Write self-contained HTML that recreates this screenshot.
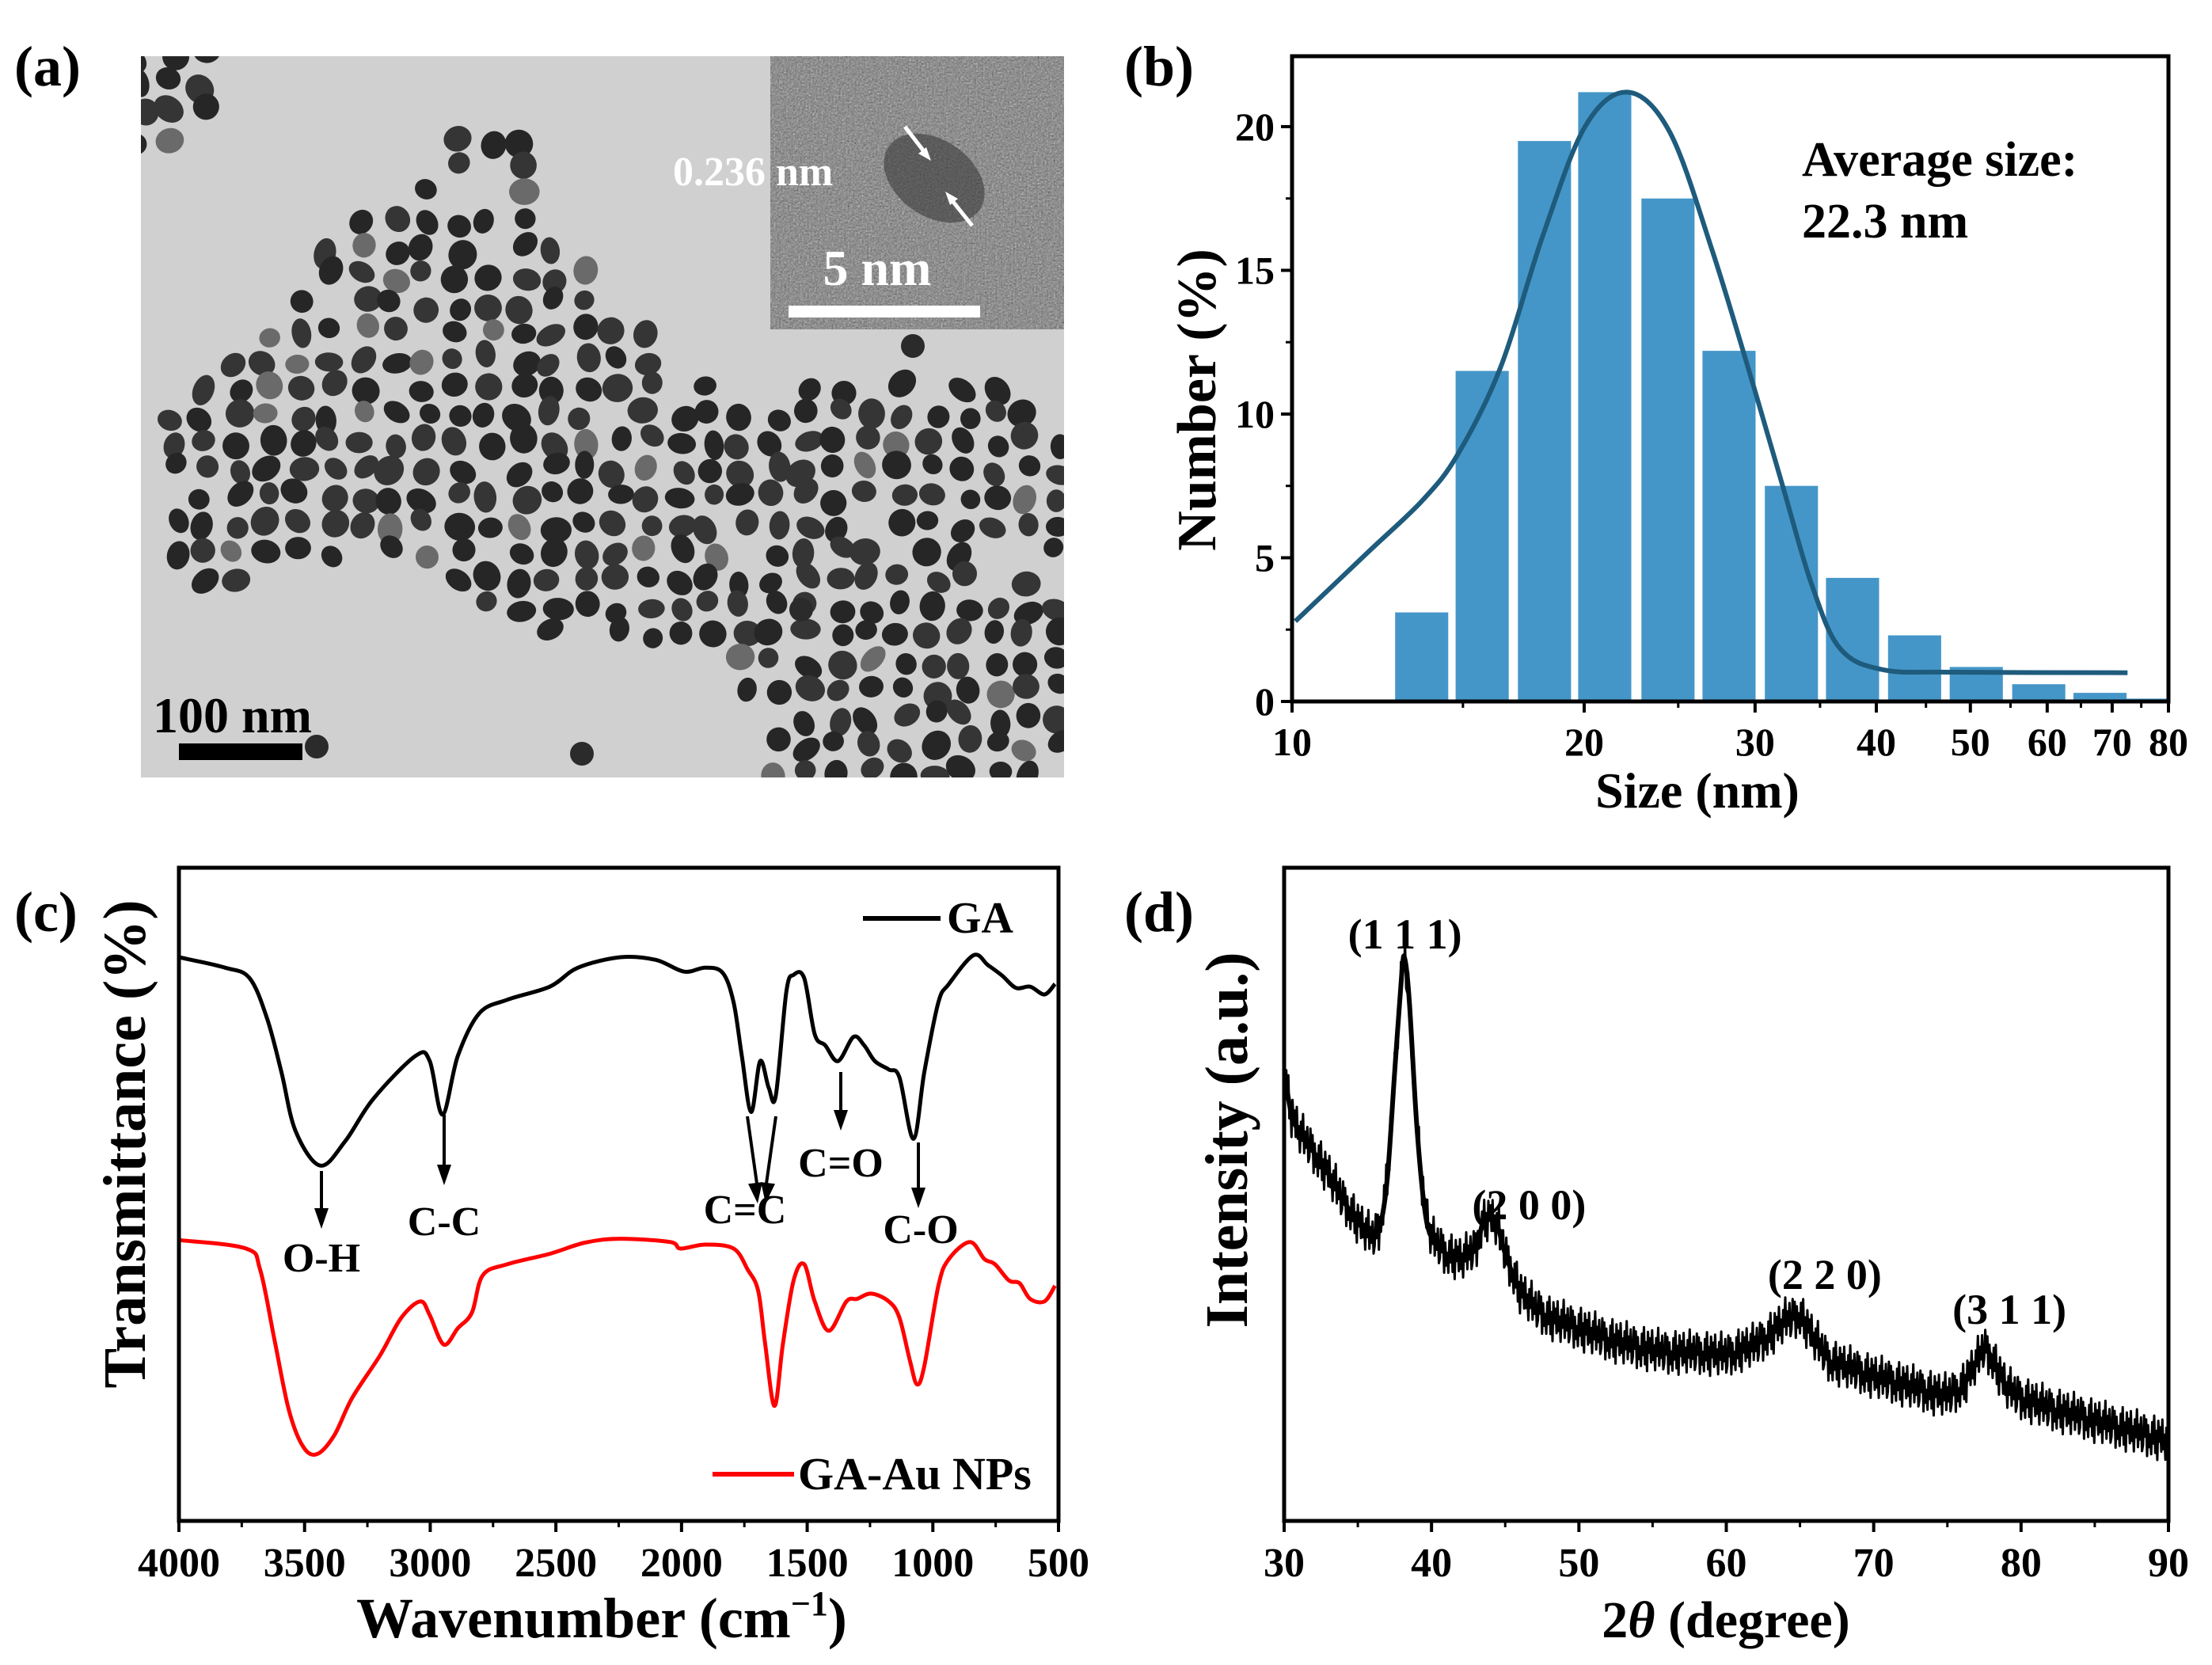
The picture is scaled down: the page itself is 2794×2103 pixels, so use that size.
<!DOCTYPE html>
<html><head><meta charset="utf-8">
<style>
html,body{margin:0;padding:0;background:#fff;}
svg{display:block;font-family:"Liberation Serif",serif;font-weight:bold;}
</style></head>
<body>
<svg id="fig" width="2794" height="2103" viewBox="0 0 2794 2103" xmlns="http://www.w3.org/2000/svg">
<defs>
<filter id="grain" x="0" y="0" width="100%" height="100%">
<feTurbulence type="fractalNoise" baseFrequency="0.45" numOctaves="2" seed="3" result="n"/>
<feColorMatrix type="saturate" values="0"/>
<feComponentTransfer><feFuncR type="linear" slope="1.6" intercept="-0.35"/><feFuncG type="linear" slope="1.6" intercept="-0.35"/><feFuncB type="linear" slope="1.6" intercept="-0.35"/></feComponentTransfer>
</filter>
<clipPath id="clipA"><rect x="178" y="71" width="1166" height="911"/></clipPath>
<clipPath id="clipB"><rect x="1632" y="71" width="1107" height="815"/></clipPath>
<clipPath id="clipD"><rect x="1622" y="1096" width="1117" height="825"/></clipPath>
</defs>

<text x="18" y="108" font-size="72">(a)</text>
<text x="1420" y="108" font-size="72">(b)</text>
<text x="18" y="1176" font-size="72">(c)</text>
<text x="1420" y="1176" font-size="72">(d)</text>

<g id="tem" clip-path="url(#clipA)">
<rect x="178" y="71" width="1166" height="911" fill="#d0d0d0"/>
<g id="particles"></g>
<g>
<rect x="973" y="71" width="371" height="345" fill="#7a7a7a"/>
<rect x="973" y="71" width="371" height="345" filter="url(#grain)" opacity="0.75"/>
<ellipse cx="1180" cy="225" rx="70" ry="48" fill="#3a3a3a" transform="rotate(35 1180 225)" opacity="0.6"/>
<line x1="1143" y1="160" x2="1170" y2="195" stroke="#fff" stroke-width="5"/>
<polygon points="1176,203 1160,194 1170,186" fill="#fff"/>
<line x1="1228" y1="285" x2="1200" y2="250" stroke="#fff" stroke-width="5"/>
<polygon points="1194,242 1210,251 1200,259" fill="#fff"/>
<text x="850" y="234" font-size="52" fill="#fff">0.236 nm</text>
<text x="1108" y="360" font-size="64" fill="#fff" text-anchor="middle">5 nm</text>
<rect x="996" y="386" width="242" height="15" fill="#fff"/>
</g>
<text x="193" y="925" font-size="64" fill="#000">100 nm</text>
<rect x="226" y="939" width="156" height="21" fill="#000"/>
</g>

<g id="panelB"></g>
<g id="panelC"></g>
<g id="panelD"></g>
</svg>

<script>
// ---------- Panel b data ----------
const binCenters = [13.6, 15.7, 18.2, 21.0, 24.4, 28.2, 32.7, 37.8, 43.8, 50.7, 58.8, 68.0, 76.5];
const binCounts  = [3.1, 11.5, 19.5, 21.2, 17.5, 12.2, 7.5, 4.3, 2.3, 1.2, 0.6, 0.3, 0.1];
const fitSizes   = [10.08, 11.98, 13.63, 14.82, 16.39, 18.13, 20.04, 22.17, 24.51, 27.12, 29.99, 32.06, 34.29, 36.67, 40.55, 47.97, 72.6];
const fitValues  = [2.79, 5.2, 7.0, 8.6, 11.6, 16.2, 20.0, 21.2, 19.8, 15.66, 10.81, 7.45, 4.10, 1.86, 1.11, 1.02, 1.0];
const bYTicks    = [0, 5, 10, 15, 20];
const bXTicks    = [10, 20, 30, 40, 50, 60, 70, 80];

// ---------- Panel c data ----------
const gaWave = [4000,3817,3719,3649,3592,3536,3438,3339,3227,3058,3002,2951,2890,2805,2693,2524,2412,2243,2103,1990,1906,1836,1793,1760,1723,1687,1653,1625,1583,1554,1512,1470,1428,1377,1316,1273,1231,1175,1133,1077,1034,978,936,838,781,725,669,613,556,514];
const gaTrans = [86.3,84.7,83.1,76.9,68.7,59.7,54.4,58.1,64.6,71.2,70.4,62.2,71.2,77.7,79.8,81.8,84.7,86.3,85.9,84.1,84.7,83.9,79.4,71.2,62.6,70.4,66.3,65.1,81.0,83.6,83.1,74.5,72.8,70.4,74.1,72.8,70.4,69.1,67.9,58.5,68.7,79.4,82.2,86.6,85.1,83.5,81.6,81.8,80.6,82.2];
const auWave = [4000,3733,3677,3620,3564,3508,3452,3382,3311,3199,3115,3039,3002,2946,2890,2834,2791,2693,2524,2384,2243,2046,2004,1906,1793,1737,1695,1667,1630,1597,1554,1512,1470,1414,1344,1301,1245,1175,1133,1091,1063,1034,978,936,852,795,753,697,655,613,556,514];
const auTrans = [43.0,41.7,38.5,27.8,17.2,11.5,10.2,13.1,18.8,25.4,31.1,33.6,31.5,27.0,29.5,31.9,37.6,39.3,40.9,42.6,43.2,42.7,41.7,42.3,41.7,38.5,35.2,27.0,17.6,27.0,36.8,39.3,33.6,29.1,33.6,34.0,34.8,33.6,31.1,24.5,20.9,23.7,36.0,40.1,42.7,40.1,39.3,36.8,36.4,34.0,33.6,36.0];
const cXTicks = [4000,3500,3000,2500,2000,1500,1000,500];

// ---------- Panel d data ----------
const xrdAngle = [30,30.5,31,32,33,34,35,36,36.5,37,37.5,38,38.2,38.5,39,39.5,40,41,42,43,43.5,44,44.5,45,46,47,48,50,52,54,56,58,60,62,63,64,65,66,67,68,70,72,74,75,76,77,77.5,78,79,80,82,84,86,88,90];
const xrdIntensity = [68.7,62.2,59.7,56.5,53.2,49.1,45.8,43.4,45.0,52.4,68.7,84.3,85.9,79.4,60.6,48.3,43.4,40.9,40.1,41.7,45.8,46.6,45.0,40.9,35.2,32.7,31.1,29.5,27.8,26.6,25.8,25.8,25.4,27.0,28.6,30.7,31.5,27.8,24.5,23.7,22.1,20.9,19.6,19.2,20.5,24.5,26.6,25.0,20.5,18.8,17.2,16.0,14.7,13.5,12.3];
const xrdJitter = [0,-3.1,2.4,-1.2,3.6,-2.7,1.1,-3.8,2.9,-0.6,1.9,-2.2,3.3,-1.7,0.8,-3.4,2.1,-0.9,3.9,-2.5,1.4,-1.1,2.7,-3.0,-1.9,3.2,-0.4,2.6,-3.6,1.7,-2.0];
const dXTicks = [30,40,50,60,70,80,90];
const peakLabels = ["(1 1 1)","(2 0 0)","(2 2 0)","(3 1 1)"];
const peakAngles = [38.2, 44.2, 64.8, 77.6];

const NS = "http://www.w3.org/2000/svg";
function mk(parent, tag, attrs) {
  const e = document.createElementNS(NS, tag);
  for (const k in attrs) e.setAttribute(k, attrs[k]);
  parent.appendChild(e);
  return e;
}
function smoothPath(pts) {
  let d = "M" + pts[0][0].toFixed(1) + "," + pts[0][1].toFixed(1);
  for (let i = 0; i < pts.length - 1; i++) {
    const p0 = pts[Math.max(0, i - 1)], p1 = pts[i], p2 = pts[i + 1], p3 = pts[Math.min(pts.length - 1, i + 2)];
    const c1x = p1[0] + (p2[0] - p0[0]) / 6, c1y = p1[1] + (p2[1] - p0[1]) / 6;
    const c2x = p2[0] - (p3[0] - p1[0]) / 6, c2y = p2[1] - (p3[1] - p1[1]) / 6;
    d += "C" + c1x.toFixed(1) + "," + c1y.toFixed(1) + " " + c2x.toFixed(1) + "," + c2y.toFixed(1) + " " + p2[0].toFixed(1) + "," + p2[1].toFixed(1);
  }
  return d;
}

// ---------- Panel a particles (decorative texture) ----------
(function () {
  const g = document.getElementById("particles");
  let seed = 7;
  function rnd() { seed = (seed * 16807) % 2147483647; return (seed - 1) / 2147483646; }
  const poly = [[500,200],[680,180],[690,400],[780,420],[800,560],[870,630],[1000,760],[1200,700],[1450,720],[1530,830],[1530,1535],[1060,1535],[1000,1300],[780,1230],[620,1230],[520,1100],[400,1090],[250,1100],[130,1160],[40,1050],[40,800],[200,650],[300,480],[350,390],[470,330]]
    .map(p => [178 + (p[0] - 38) / 1492 * 1166, 71 + (p[1] - 38) / 1497 * 911]);
  function inside(x, y) {
    let c = false;
    for (let i = 0, j = poly.length - 1; i < poly.length; j = i++) {
      const xi = poly[i][0], yi = poly[i][1], xj = poly[j][0], yj = poly[j][1];
      if (((yi > y) !== (yj > y)) && (x < (xj - xi) * (y - yi) / (yj - yi) + xi)) c = !c;
    }
    return c;
  }
  const step = 40;
  for (let y = 71; y < 990; y += step * 0.87) {
    for (let x = 178; x < 1350; x += step) {
      const px = x + (rnd() - 0.5) * 16, py = y + (rnd() - 0.5) * 16;
      const topLeft = px < 290 && py < 200;
      if (!(inside(px, py) || topLeft)) continue;
      if (px > 970 && py < 420) continue;
      if (rnd() < 0.06) continue;
      const rx = 12 + rnd() * 8, ry = 12 + rnd() * 6;
      const shade = rnd() < 0.08 ? "#6a6a6a" : (rnd() < 0.5 ? "#262626" : "#353535");
      const el = mk(g, "ellipse", { cx: px.toFixed(1), cy: py.toFixed(1), rx: rx.toFixed(1), ry: ry.toFixed(1), fill: shade, transform: "rotate(" + (rnd() * 180).toFixed(0) + " " + px.toFixed(1) + " " + py.toFixed(1) + ")" });
      
      
    }
  }
  [[400,943],[735,952],[1153,437],[1012,770]].forEach(p => {
    const el = mk(g, "circle", { cx: p[0], cy: p[1], r: 15, fill: "#2b2b2b" });
    
    
  });
})();

// ---------- Panel b ----------
(function () {
  const g = document.getElementById("panelB");
  const L = 1632, R = 2739, T = 71, B = 886, yMax = 22.45;
  const pxDec = (R - L) / Math.log10(8);
  const xs = v => L + Math.log10(v / 10) * pxDec;
  const ys = v => B - v / yMax * (B - T);
  const barW = 0.0547 * pxDec;
  const bars = mk(g, "g", { "clip-path": "url(#clipB)" });
  
  
  binCenters.forEach((c, i) => {
    const r = mk(bars, "rect", { x: (xs(c) - barW / 2).toFixed(1), y: ys(binCounts[i]).toFixed(1), width: barW.toFixed(1), height: (B - ys(binCounts[i])).toFixed(1), fill: "#4596c8" });
    
    
  });
  const fit = mk(g, "path", { d: smoothPath(fitSizes.map((s, i) => [xs(s), ys(fitValues[i])])), fill: "none", stroke: "#1e5b7c", "stroke-width": 6, "clip-path": "url(#clipB)" });
  
  
  const frame = mk(g, "rect", { x: L, y: T, width: R - L, height: B - T, fill: "none", stroke: "#000", "stroke-width": 5 });
  
  
  bYTicks.forEach(v => {
    const t = mk(g, "line", { x1: L - 14, x2: L, y1: ys(v), y2: ys(v), stroke: "#000", "stroke-width": 4 });
    
    
    const tx = mk(g, "text", { x: L - 22, y: ys(v) + 17, "font-size": 50, "text-anchor": "end" });
    tx.textContent = v;
    
    
    if (v < 20) {
      const m = mk(g, "line", { x1: L - 8, x2: L, y1: ys(v + 2.5), y2: ys(v + 2.5), stroke: "#000", "stroke-width": 3 });
      
      
    }
  });
  bXTicks.forEach(v => {
    const t = mk(g, "line", { x1: xs(v), x2: xs(v), y1: B, y2: B + 14, stroke: "#000", "stroke-width": 4 });
    
    
    const tx = mk(g, "text", { x: xs(v), y: B + 68, "font-size": 50, "text-anchor": "middle" });
    tx.textContent = v;
    
    
  });
  [15, 25, 35, 45, 55, 65, 75].forEach(v => {
    const m = mk(g, "line", { x1: xs(v), x2: xs(v), y1: B, y2: B + 8, stroke: "#000", "stroke-width": 3 });
    
    
  });
  const xt = mk(g, "text", { x: 2144, y: 1020, "font-size": 64, "text-anchor": "middle" });
  xt.textContent = "Size (nm)";
  
  
  const yt = mk(g, "text", { x: 0, y: 0, "font-size": 70, "text-anchor": "middle", transform: "translate(1535 505) rotate(-90)" });
  yt.textContent = "Number (%)";
  
  
  const a1 = mk(g, "text", { x: 2276, y: 222, "font-size": 62 });
  a1.textContent = "Average size:";
  
  
  const a2 = mk(g, "text", { x: 2276, y: 300, "font-size": 62 });
  a2.textContent = "22.3 nm";
  
  
})();

// ---------- Panel c ----------
(function () {
  const g = document.getElementById("panelC");
  const L = 226, R = 1337, T = 1096, B = 1921;
  const xs = w => L + (4000 - w) / 3500 * (R - L);
  const ys = v => B - v / 100 * (B - T);
  const ga = mk(g, "path", { d: smoothPath(gaWave.map((w, i) => [xs(w), ys(gaTrans[i])])), fill: "none", stroke: "#000", "stroke-width": 5 });
  
  
  const au = mk(g, "path", { d: smoothPath(auWave.map((w, i) => [xs(w), ys(auTrans[i])])), fill: "none", stroke: "#ff0000", "stroke-width": 5 });
  
  
  const frame = mk(g, "rect", { x: L, y: T, width: R - L, height: B - T, fill: "none", stroke: "#000", "stroke-width": 5 });
  
  
  cXTicks.forEach(v => {
    const t = mk(g, "line", { x1: xs(v), x2: xs(v), y1: B, y2: B + 14, stroke: "#000", "stroke-width": 4 });
    
    
    const tx = mk(g, "text", { x: xs(v), y: B + 70, "font-size": 52, "text-anchor": "middle" });
    tx.textContent = v;
    
    
    if (v > 500) {
      const m = mk(g, "line", { x1: xs(v - 250), x2: xs(v - 250), y1: B, y2: B + 8, stroke: "#000", "stroke-width": 3 });
      
      
    }
  });
  const xt = mk(g, "text", { x: 760, y: 2068, "font-size": 72, "text-anchor": "middle" });
  xt.innerHTML = 'Wavenumber (cm<tspan font-size="44" dy="-28">−1</tspan><tspan dy="28">)</tspan>';
  
  
  const yt = mk(g, "text", { x: 0, y: 0, "font-size": 76, "text-anchor": "middle", transform: "translate(183 1445) rotate(-90)" });
  yt.textContent = "Transmittance (%)";
  
  
  const l1 = mk(g, "line", { x1: 1090, x2: 1188, y1: 1160, y2: 1160, stroke: "#000", "stroke-width": 6 });
  
  
  const l1t = mk(g, "text", { x: 1196, y: 1178, "font-size": 56 });
  l1t.textContent = "GA";
  
  
  const l2 = mk(g, "line", { x1: 900, x2: 1003, y1: 1862, y2: 1862, stroke: "#ff0000", "stroke-width": 6 });
  
  
  const l2t = mk(g, "text", { x: 1008, y: 1881, "font-size": 58 });
  l2t.textContent = "GA-Au NPs";
  
  
  const arrows = [[406,1479,406,1552],[561,1408,561,1497],[944,1410,957,1520],[980,1410,967,1520],[1062,1354,1062,1428],[1160,1443,1160,1526]];
  arrows.forEach(a => {
    const ln = mk(g, "line", { x1: a[0], y1: a[1], x2: a[2], y2: a[3] - 18, stroke: "#000", "stroke-width": 4 });
    
    
    const ang = Math.atan2(a[3] - a[1], a[2] - a[0]);
    const hx = a[2], hy = a[3];
    const p1 = [hx - 26 * Math.cos(ang) + 9 * Math.sin(ang), hy - 26 * Math.sin(ang) - 9 * Math.cos(ang)];
    const p2 = [hx - 26 * Math.cos(ang) - 9 * Math.sin(ang), hy - 26 * Math.sin(ang) + 9 * Math.cos(ang)];
    const hd = mk(g, "polygon", { points: hx + "," + hy + " " + p1.join(",") + " " + p2.join(","), fill: "#000" });
    
    
  });
  [["O-H",406,1606],["C-C",561,1560],["C=C",941,1545],["C=O",1062,1486],["C-O",1163,1570]].forEach(a => {
    const t = mk(g, "text", { x: a[1], y: a[2], "font-size": 52, "text-anchor": "middle" });
    t.textContent = a[0];
    
    
  });
})();

// ---------- Panel d ----------
(function () {
  const g = document.getElementById("panelD");
  const L = 1622, R = 2739, T = 1096, B = 1921;
  const xs = a => L + (a - 30) / 60 * (R - L);
  const ys = v => B - v / 100 * (B - T);
  let d = "";
  let k = 0;
  for (let i = 0; i < xrdAngle.length - 1; i++) {
    const a0 = xrdAngle[i], a1 = xrdAngle[i + 1];
    const n = Math.max(1, Math.round((a1 - a0) / 0.07));
    for (let j = 0; j < n; j++) {
      const f = j / n;
      const v = xrdIntensity[i] + (xrdIntensity[i + 1] - xrdIntensity[i]) * f + xrdJitter[k % xrdJitter.length] * 0.9;
      d += (d ? "L" : "M") + xs(a0 + (a1 - a0) * f).toFixed(1) + "," + ys(v).toFixed(1);
      k++;
    }
  }
  d += "L" + xs(90).toFixed(1) + "," + ys(xrdIntensity[xrdIntensity.length - 1]).toFixed(1);
  const tr = mk(g, "path", { d: d, fill: "none", stroke: "#000", "stroke-width": 3, "stroke-linejoin": "round", "clip-path": "url(#clipD)" });
  
  
  const base = mk(g, "path", { d: smoothPath(xrdAngle.map((a, i) => [xs(a), ys(xrdIntensity[i])])), fill: "none", stroke: "#000", "stroke-width": 6, "clip-path": "url(#clipD)" });
  
  
  const frame = mk(g, "rect", { x: L, y: T, width: R - L, height: B - T, fill: "none", stroke: "#000", "stroke-width": 5 });
  
  
  dXTicks.forEach(v => {
    const t = mk(g, "line", { x1: xs(v), x2: xs(v), y1: B, y2: B + 14, stroke: "#000", "stroke-width": 4 });
    
    
    const tx = mk(g, "text", { x: xs(v), y: B + 70, "font-size": 52, "text-anchor": "middle" });
    tx.textContent = v;
    
    
    if (v < 90) {
      const m = mk(g, "line", { x1: xs(v + 5), x2: xs(v + 5), y1: B, y2: B + 8, stroke: "#000", "stroke-width": 3 });
      
      
    }
  });
  const xt = mk(g, "text", { x: 2180, y: 2068, "font-size": 66, "text-anchor": "middle" });
  xt.innerHTML = '2<tspan font-style="italic">θ</tspan> (degree)';
  
  
  const yt = mk(g, "text", { x: 0, y: 0, "font-size": 76, "text-anchor": "middle", transform: "translate(1575 1440) rotate(-90)" });
  yt.textContent = "Intensity (a.u.)";
  
  
  const lblY = [1198, 1540, 1628, 1672];
  const lblDx = [0, 45, 35, 30];
  peakLabels.forEach((s, i) => {
    const t = mk(g, "text", { x: xs(peakAngles[i]) + lblDx[i], y: lblY[i], "font-size": 54, "text-anchor": "middle" });
    t.textContent = s;
    
    
  });
})();
</script>
</body></html>
